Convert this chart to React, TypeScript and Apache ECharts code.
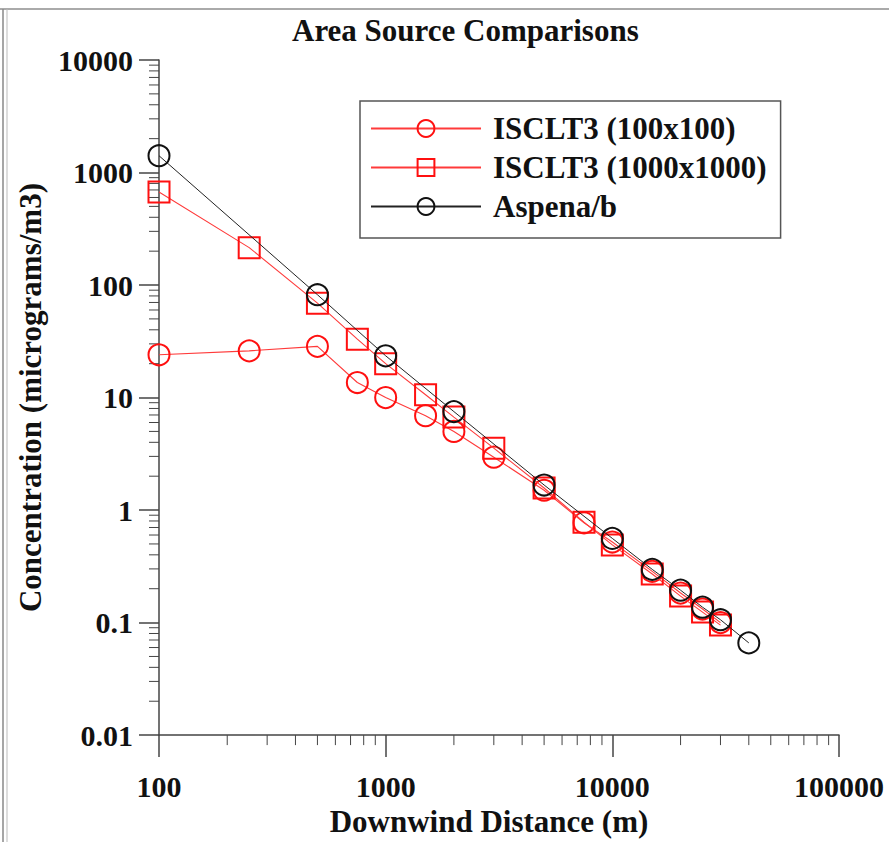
import React, { useEffect, useRef } from "react";
import * as echarts from "echarts";

// Downwind distances (m)
const iscDistances = [100, 250, 500, 750, 1000, 1500, 2000, 3000, 5000, 7500, 10000, 15000, 20000, 25000, 30000];
// ISCLT3 (100x100) concentrations
const isc100 = [24, 26, 28.5, 13.6, 10, 6.9, 5.0, 2.95, 1.5, 0.77, 0.52, 0.285, 0.183, 0.132, 0.1];
// ISCLT3 (1000x1000) concentrations
const isc1000 = [670, 215, 69, 33, 20, 10.6, 6.7, 3.55, 1.57, 0.78, 0.49, 0.27, 0.172, 0.124, 0.095];
// Aspena/b
const aspenaDistances = [100, 500, 1000, 2000, 5000, 10000, 15000, 20000, 25000, 30000, 40000];
const aspena = [1410, 82, 23.5, 7.5, 1.67, 0.56, 0.297, 0.194, 0.137, 0.106, 0.066];

const seriesNames = ["ISCLT3 (100x100)", "ISCLT3 (1000x1000)", "Aspena/b"];

// minor tick positions (log axes)
const minorMultipliers = [2, 3, 4, 5, 6, 7, 8, 9];
const xDecades = [100, 1000, 10000];
const yDecades = [0.01, 0.1, 1, 10, 100, 1000];

const X_MIN = 100;
const X_MAX = 100000;
const Y_MIN = 0.01;
const Y_MAX = 10000;

const FONT = "'Liberation Serif', 'Times New Roman', serif";

function fmt(v: number): string {
  return String(Number(v.toPrecision(6)));
}

export default function App() {
  const ref = useRef<HTMLDivElement>(null);

  useEffect(() => {
    if (!ref.current) return;
    const chart = echarts.init(ref.current, undefined, { renderer: "svg" });

    const minorX: number[][] = [];
    xDecades.forEach((d) => minorMultipliers.forEach((m) => minorX.push([d * m, Y_MIN])));
    const minorY: number[][] = [];
    yDecades.forEach((d) => minorMultipliers.forEach((m) => minorY.push([X_MIN, Number((d * m).toPrecision(6))])));

    const axisColor = "#444";

    const option: any = {
      animation: false,
      backgroundColor: "#fff",
      title: {
        text: "Area Source Comparisons",
        left: 287,
        top: 10,
        textStyle: { fontFamily: FONT, fontWeight: "bold", fontSize: 31, color: "#111" },
      },
      graphic: [
        { type: "line", shape: { x1: 0, y1: 9, x2: 889, y2: 9 }, style: { stroke: "#aaa", lineWidth: 2 } },
        { type: "line", shape: { x1: 3, y1: 9, x2: 3, y2: 842 }, style: { stroke: "#888", lineWidth: 1.5 } },
        { type: "line", shape: { x1: 7, y1: 9, x2: 7, y2: 842 }, style: { stroke: "#bbb", lineWidth: 1 } },
      ],
      legend: {
        data: seriesNames,
        orient: "vertical",
        left: 360,
        top: 101,
        padding: [12, 14, 16, 10],
        itemGap: 8,
        itemWidth: 110,
        itemHeight: 21,
        borderColor: "#555",
        borderWidth: 1.5,
        backgroundColor: "#fff",
        selectedMode: false,
        textStyle: {
          fontFamily: FONT,
          fontWeight: "bold",
          fontSize: 31,
          lineHeight: 29,
          color: "#111",
          padding: [0, 0, 0, 7],
        },
      },
      grid: { left: 159, top: 60, width: 680, height: 680, containLabel: false },
      xAxis: {
        type: "log",
        logBase: 10,
        min: X_MIN,
        max: X_MAX,
        name: "Downwind Distance (m)",
        nameLocation: "middle",
        nameGap: 70,
        nameTextStyle: { fontFamily: FONT, fontWeight: "bold", fontSize: 31, color: "#111", padding: [0, 20, 0, 0] },
        axisLine: { lineStyle: { color: axisColor, width: 1.5 } },
        axisTick: { inside: false, length: 22, lineStyle: { color: axisColor, width: 1.5 } },
        axisLabel: {
          margin: 36,
          fontFamily: FONT,
          fontWeight: "bold",
          fontSize: 30,
          color: "#111",
          formatter: (v: number) => fmt(v),
        },
        splitLine: { show: false },
      },
      yAxis: {
        type: "log",
        logBase: 10,
        min: Y_MIN,
        max: Y_MAX,
        name: "Concentration (micrograms/m3)",
        nameLocation: "middle",
        nameGap: 113,
        nameTextStyle: { fontFamily: FONT, fontWeight: "bold", fontSize: 31, color: "#111" },
        axisLine: { lineStyle: { color: axisColor, width: 1.5 } },
        axisTick: { inside: false, length: 20, lineStyle: { color: axisColor, width: 1.5 } },
        axisLabel: {
          margin: 26,
          fontFamily: FONT,
          fontWeight: "bold",
          fontSize: 30,
          color: "#111",
          formatter: (v: number) => fmt(v),
        },
        splitLine: { show: false },
      },
      series: [
        {
          type: "custom",
          name: "minorX",
          silent: true,
          clip: false,
          data: minorX,
          renderItem: (params: any, api: any) => {
            const p = api.coord([api.value(0), api.value(1)]);
            return {
              type: "line",
              shape: { x1: p[0], y1: p[1], x2: p[0], y2: p[1] + 10 },
              style: { stroke: axisColor, lineWidth: 1 },
            };
          },
          z: 1,
        },
        {
          type: "custom",
          name: "minorY",
          silent: true,
          clip: false,
          data: minorY,
          renderItem: (params: any, api: any) => {
            const p = api.coord([api.value(0), api.value(1)]);
            return {
              type: "line",
              shape: { x1: p[0] - 10, y1: p[1], x2: p[0], y2: p[1] },
              style: { stroke: axisColor, lineWidth: 1 },
            };
          },
          z: 1,
        },
        {
          type: "line",
          name: seriesNames[0],
          data: iscDistances.map((d, i) => [d, isc100[i]]),
          symbol: "circle",
          symbolSize: 21,
          showAllSymbol: true,
          lineStyle: { color: "#ff3a3a", width: 1.1 },
          itemStyle: { color: "rgba(255,0,0,0)", borderColor: "#ff1010", borderWidth: 2 },
          z: 3,
        },
        {
          type: "line",
          name: seriesNames[1],
          data: iscDistances.map((d, i) => [d, isc1000[i]]),
          symbol: "rect",
          symbolSize: 21,
          showAllSymbol: true,
          lineStyle: { color: "#ff3a3a", width: 1.1 },
          itemStyle: { color: "rgba(255,0,0,0)", borderColor: "#ff1010", borderWidth: 2 },
          z: 4,
        },
        {
          type: "line",
          name: seriesNames[2],
          data: aspenaDistances.map((d, i) => [d, aspena[i]]),
          symbol: "circle",
          symbolSize: 21,
          showAllSymbol: true,
          lineStyle: { color: "#222", width: 1 },
          itemStyle: { color: "rgba(0,0,0,0)", borderColor: "#111", borderWidth: 2 },
          z: 5,
        },
      ],
    };

    chart.setOption(option);
    return () => chart.dispose();
  }, []);

  return (
    <div
      ref={ref}
      style={{ position: "fixed", left: 0, top: 0, width: 889, height: 842, background: "#fff" }}
    />
  );
}
